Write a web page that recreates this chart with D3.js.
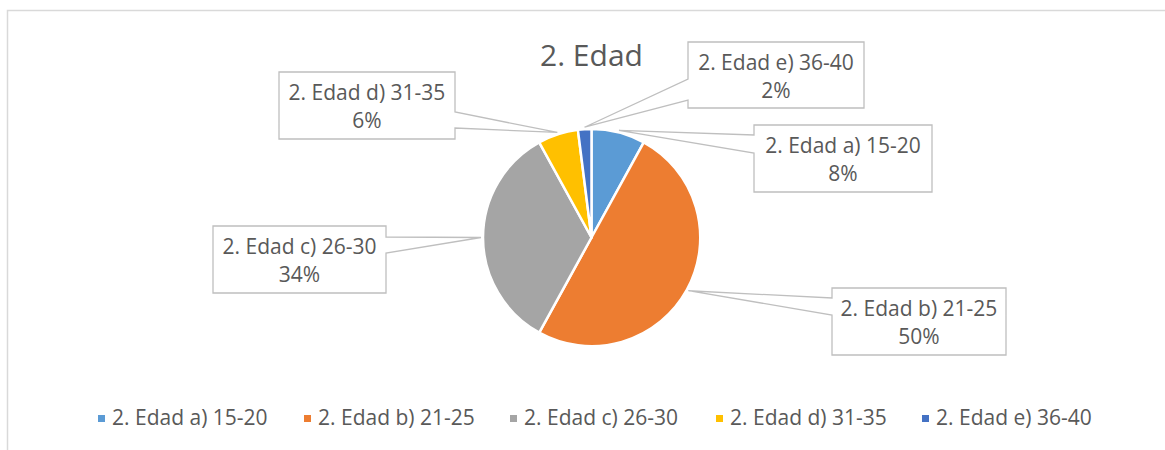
<!DOCTYPE html>
<html>
<head>
<meta charset="utf-8">
<script src="https://cdn.jsdelivr.net/npm/d3@7"></script>
<style>
  body { margin: 0; background: #fff; }
  svg { display: block; font-family: "Open Sans", sans-serif; }
</style>
</head>
<body>
<div id="chart"></div>
<script>
// datos de la figura
const categories = ["2. Edad a) 15-20", "2. Edad b) 21-25", "2. Edad c) 26-30", "2. Edad d) 31-35", "2. Edad e) 36-40"];
const values = [8, 50, 34, 6, 2];
const colors = ["#5B9BD5", "#ED7D31", "#A5A5A5", "#FFC000", "#4472C4"];
const title = "2. Edad";

// cajas de etiquetas: posicion, lado del puntero y base del puntero
const boxes = [
  { x: 754, y: 125, w: 178, h: 67, side: "left",  b0: 10, b1: 28 },
  { x: 832, y: 288, w: 174, h: 67, side: "left",  b0: 10, b1: 27 },
  { x: 213, y: 226, w: 173, h: 67, side: "right", b0: 11, b1: 27 },
  { x: 279, y: 72,  w: 176, h: 67, side: "right", b0: 40, b1: 56 },
  { x: 688, y: 42,  w: 176, h: 66, side: "left",  b0: 37, b1: 58 }
];

const W = 1165, H = 450;
const cx = 591.5, cy = 237.5, r = 108.5;
const textColor = "#595959";

const svg = d3.select("#chart").append("svg")
  .attr("width", W).attr("height", H);

// borde del area del grafico
svg.append("path")
  .attr("d", "M7.5," + H + " L7.5,10.5 L" + W + ",10.5")
  .attr("fill", "none").attr("stroke", "#d9d9d9").attr("stroke-width", 1.5);

svg.append("text")
  .attr("x", cx).attr("y", 66)
  .attr("text-anchor", "middle")
  .attr("font-size", 30)
  .attr("fill", textColor)
  .text(title);

const total = d3.sum(values);
const pie = d3.pie().sort(null).value(d => d);
const arcs = pie(values);
const arc = d3.arc().innerRadius(0).outerRadius(r);

const g = svg.append("g").attr("transform", "translate(" + cx + "," + cy + ")");

// callouts (debajo del pastel)
const labelR = r + 2;
arcs.forEach((a, i) => {
  const b = boxes[i];
  const mid = (a.startAngle + a.endAngle) / 2;
  const px = cx + labelR * Math.sin(mid);
  const py = cy - labelR * Math.cos(mid);
  const x0 = b.x, y0 = b.y, x1 = b.x + b.w, y1 = b.y + b.h;
  let d;
  if (b.side === "left") {
    d = "M" + x0 + "," + y0 + " L" + x1 + "," + y0 + " L" + x1 + "," + y1 + " L" + x0 + "," + y1 +
        " L" + x0 + "," + (y0 + b.b1) + " L" + px + "," + py + " L" + x0 + "," + (y0 + b.b0) + " Z";
  } else {
    d = "M" + x0 + "," + y0 + " L" + x1 + "," + y0 + " L" + x1 + "," + (y0 + b.b0) + " L" + px + "," + py +
        " L" + x1 + "," + (y0 + b.b1) + " L" + x1 + "," + y1 + " L" + x0 + "," + y1 + " Z";
  }
  svg.append("path")
    .attr("d", d)
    .attr("fill", "#fff")
    .attr("stroke", "#bfbfbf")
    .attr("stroke-width", 1.3);
  const t = svg.append("text")
    .attr("text-anchor", "middle")
    .attr("font-size", 21)
    .attr("fill", textColor);
  t.append("tspan").attr("x", x0 + b.w / 2).attr("y", y0 + 28).text(categories[i]);
  t.append("tspan").attr("x", x0 + b.w / 2).attr("y", y0 + 56)
    .text(d3.format(".0%")(values[i] / total));
});

g.selectAll("path.slice")
  .data(arcs)
  .enter()
  .append("path")
    .attr("class", "slice")
    .attr("d", arc)
    .attr("fill", (d, i) => colors[i])
    .attr("stroke", "#fff")
    .attr("stroke-width", 2.5)
    .attr("stroke-linejoin", "round");

// leyenda
const legendX = d3.scalePoint()
  .domain(categories)
  .range([98, 922]);

const leg = svg.append("g").selectAll("g")
  .data(categories)
  .enter()
  .append("g")
    .attr("transform", d => "translate(" + legendX(d) + ",0)");

leg.append("rect")
  .attr("x", 0).attr("y", 415)
  .attr("width", 7).attr("height", 7)
  .attr("fill", (d, i) => colors[i]);

leg.append("text")
  .attr("x", 14).attr("y", 425)
  .attr("font-size", 21)
  .attr("fill", textColor)
  .text(d => d);
</script>
</body>
</html>
